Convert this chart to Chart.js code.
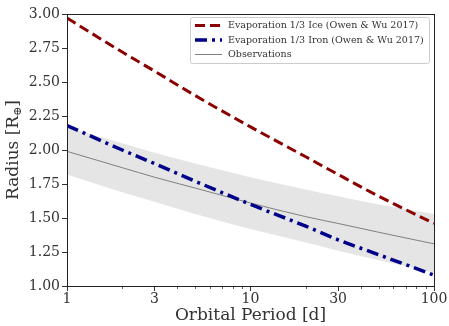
<!DOCTYPE html>
<html><head><meta charset="utf-8">
<script src="https://cdn.jsdelivr.net/npm/chart.js@4/dist/chart.umd.min.js"></script>
<style>html,body{margin:0;padding:0;background:#fff}#w{width:449px;height:326px}</style>
</head><body><div id="w"><canvas id="c" width="449" height="326"></canvas></div>
<script>
const periods   = [1, 2, 3, 5, 10, 20, 30, 50, 100];
const iceRadius = [2.97, 2.72, 2.58, 2.40, 2.17, 1.95, 1.82, 1.66, 1.46];
const ironRadius= [2.18, 2.00, 1.90, 1.77, 1.60, 1.44, 1.34, 1.23, 1.08];
const obsRadius = [1.99, 1.87, 1.80, 1.72, 1.61, 1.51, 1.46, 1.395, 1.31];
const obsUpper  = [2.17, 2.05, 1.98, 1.90, 1.80, 1.71, 1.66, 1.60, 1.53];
const obsLower  = [1.82, 1.69, 1.62, 1.53, 1.42, 1.32, 1.26, 1.19, 1.10];
const xTickValues = [1,2,3,4,5,6,7,8,9,10,20,30,40,50,60,70,80,90,100];
const xTickLabels = {1:'1',3:'3',10:'10',30:'30',100:'100'};
const seriesLabels = ['Evaporation 1/3 Ice (Owen & Wu 2017)','Evaporation 1/3 Iron (Owen & Wu 2017)','Observations'];

const pts = arr => periods.map((p,i)=>({x:p,y:arr[i]}));
const SERIF = "'DejaVu Serif', serif";

const framePlugin = {
  id:'frame',
  afterDraw(chart){
    const {ctx, chartArea:a, scales} = chart;
    ctx.save();
    ctx.strokeStyle='#333'; ctx.lineWidth=0.8;
    xTickValues.forEach(v=>{
      if(xTickLabels[v]) return;
      const x=Math.round(scales.x.getPixelForValue(v))+0.5;
      ctx.beginPath(); ctx.moveTo(x,a.bottom); ctx.lineTo(x,a.bottom+3); ctx.stroke();
    });
    ctx.strokeStyle='#222'; ctx.lineWidth=1;
    ctx.strokeRect(Math.round(a.left)+0.5, Math.round(a.top)+0.5, Math.round(a.right-a.left), Math.round(a.bottom-a.top));
    ctx.fillStyle='#333';
    ctx.translate(14, (a.top+a.bottom)/2);
    ctx.rotate(-Math.PI/2);
    ctx.textBaseline='middle';
    ctx.font='17px '+SERIF;
    const t1='Radius [R', t3=']';
    const w1=ctx.measureText(t1).width, w3=ctx.measureText(t3).width;
    ctx.font='11px '+SERIF;
    const w2=ctx.measureText('⊕').width;
    let x0=-(w1+w2+w3)/2;
    ctx.font='17px '+SERIF; ctx.textAlign='left';
    ctx.fillText(t1,x0,0);
    ctx.font='11px '+SERIF; ctx.fillText('⊕',x0+w1,4);
    ctx.font='17px '+SERIF; ctx.fillText(t3,x0+w1+w2,0);
    ctx.restore();
    // legend
    ctx.save();
    const bx=190.5, by=17.5, bw=239, bh=46;
    ctx.fillStyle='rgba(255,255,255,0.85)';
    ctx.strokeStyle='#cccccc'; ctx.lineWidth=1;
    ctx.beginPath(); ctx.roundRect(bx,by,bw,bh,2); ctx.fill(); ctx.stroke();
    ctx.font='10px '+SERIF;
    const target=196, mw=ctx.measureText(seriesLabels[1]).width;
    const fs=(10*target/mw).toFixed(2);
    ctx.font=fs+'px '+SERIF; ctx.textBaseline='middle'; ctx.textAlign='left';
    for(let i=0;i<3;i++){
      const ds=chart.data.datasets[i];
      const y=by+8+i*14.5;
      ctx.strokeStyle=ds.borderColor; ctx.lineWidth=ds.borderWidth;
      ctx.setLineDash(ds.borderDash||[]);
      ctx.beginPath(); ctx.moveTo(195,y); ctx.lineTo(222,y); ctx.stroke();
      ctx.setLineDash([]);
      ctx.fillStyle='#333';
      ctx.fillText(ds.label,228,y+0.5);
    }
    ctx.restore();
  }
};

new Chart(document.getElementById('c'),{
  type:'line',
  data:{datasets:[
    {label:seriesLabels[0],data:pts(iceRadius),borderColor:'#8b0000',borderWidth:3,borderDash:[10,5],pointRadius:0,fill:false,order:1,cubicInterpolationMode:'monotone'},
    {label:seriesLabels[1],data:pts(ironRadius),borderColor:'#00008b',borderWidth:3.5,borderDash:[12,5,3,5],pointRadius:0,fill:false,order:2,cubicInterpolationMode:'monotone'},
    {label:seriesLabels[2],data:pts(obsRadius),borderColor:'#808080',borderWidth:1,pointRadius:0,fill:false,order:3,cubicInterpolationMode:'monotone'},
    {label:'upper',data:pts(obsUpper),borderWidth:0,borderColor:'rgba(0,0,0,0)',backgroundColor:'#e5e5e5',pointRadius:0,fill:{target:4},order:10,cubicInterpolationMode:'monotone'},
    {label:'lower',data:pts(obsLower),borderWidth:0,borderColor:'rgba(0,0,0,0)',pointRadius:0,fill:false,order:11,cubicInterpolationMode:'monotone'}
  ]},
  options:{
    responsive:false, animation:false, devicePixelRatio:1,
    layout:{padding:{top:14,right:15,left:0,bottom:0}},
    plugins:{legend:{display:false},tooltip:{enabled:false}},
    scales:{
      x:{type:'logarithmic',min:1,max:100,
        afterBuildTicks(s){s.ticks=xTickValues.map(v=>({value:v}));},
        afterFit(s){s.height=40;},
        grid:{display:true,drawOnChartArea:false,tickLength:5,color:(c)=> (c.tick&&xTickLabels[c.tick.value])?'#333':'rgba(0,0,0,0)',tickWidth:1},
        border:{display:false},
        ticks:{autoSkip:false,maxRotation:0,padding:0,color:'#333',font:{family:SERIF,size:14},callback:(v)=>xTickLabels[v]||''},
        title:{display:true,text:'Orbital Period [d]',color:'#333',font:{family:SERIF,size:17},padding:{top:0,bottom:0}}
      },
      y:{min:1,max:3,
        afterBuildTicks(s){const t=[];for(let v=1;v<=3.0001;v+=0.25)t.push({value:+v.toFixed(2)});s.ticks=t;},
        afterFit(s){s.width=67;},
        grid:{display:true,drawOnChartArea:false,tickLength:5,color:'#333'},
        border:{display:false},
        ticks:{padding:2,color:'#333',font:{family:SERIF,size:14},callback:(v)=>Number(v).toFixed(2)}
      }
    }
  },
  plugins:[framePlugin]
});
</script></body></html>
